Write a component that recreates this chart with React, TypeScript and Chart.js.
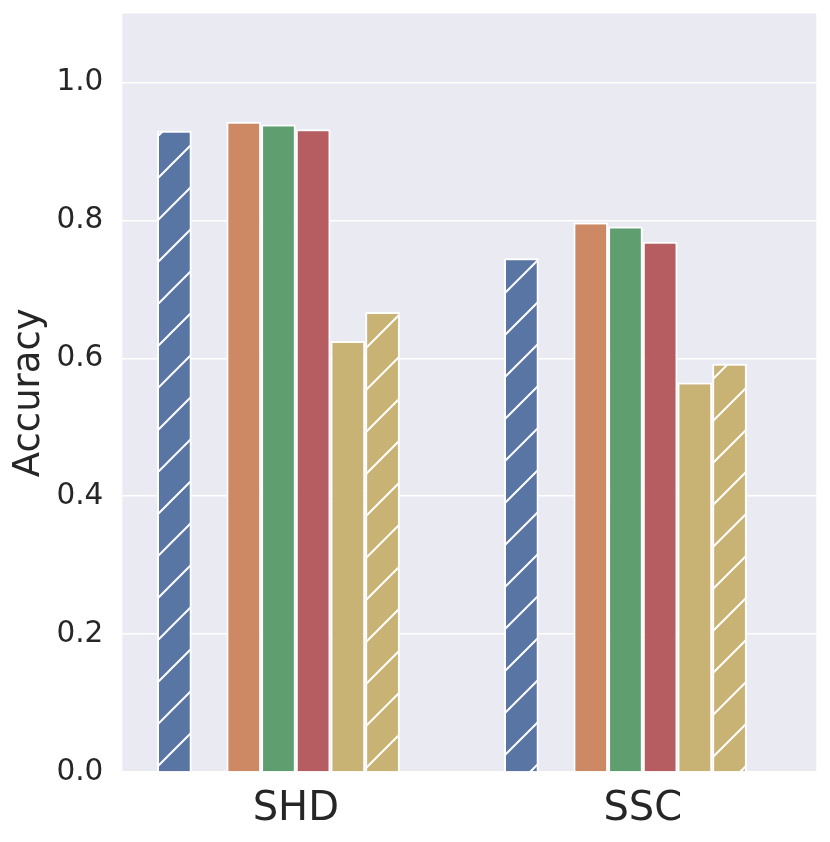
import { useEffect, useRef } from "react";
import { Chart, registerables } from "chart.js";
Chart.register(...registerables);

// two benchmarks, eight hue slots (two of them are empty in the original plot)
const categories = ["SHD", "SSC"];
const blueHatched = [0.930, 0.745];
const emptySlot = [null, null];
const orange = [0.943, 0.797];
const green = [0.939, 0.791];
const red = [0.932, 0.769];
const yellow = [0.625, 0.565];
const yellowHatched = [0.667, 0.592];
const yTicks = [0, 0.2, 0.4, 0.6, 0.8, 1.0];

const INK = "#262626";
const FONT = "'DejaVu Sans', sans-serif";

function hatch(color: string) {
  const s = 42;
  const c = document.createElement("canvas");
  c.width = s;
  c.height = s;
  const g = c.getContext("2d")!;
  g.fillStyle = color;
  g.fillRect(0, 0, s, s);
  g.strokeStyle = "#ffffff";
  g.lineWidth = 2;
  g.beginPath();
  g.moveTo(0, s);
  g.lineTo(s, 0);
  g.moveTo(-2, 2);
  g.lineTo(2, -2);
  g.moveTo(s - 2, s + 2);
  g.lineTo(s + 2, s - 2);
  g.stroke();
  return g.createPattern(c, "repeat")!;
}

export default function App() {
  const canvasRef = useRef<HTMLCanvasElement | null>(null);

  useEffect(() => {
    if (!canvasRef.current) return;
    const ctx = canvasRef.current.getContext("2d");
    if (!ctx) return;

    const bar = (label: string, data: (number | null)[], fill: any) => ({
      label, data, backgroundColor: fill, borderColor: "#ffffff", borderWidth: 2,
    });

    const chart = new Chart(ctx, {
      type: "bar",
      data: {
        labels: categories,
        datasets: [
          bar("s1", blueHatched, hatch("#5975A4")),
          bar("gap1", emptySlot, "rgba(0,0,0,0)"),
          bar("s2", orange, "#CC8963"),
          bar("s3", green, "#5F9E6E"),
          bar("s4", red, "#B55D60"),
          bar("s5", yellow, "#C8B274"),
          bar("s6", yellowHatched, hatch("#C8B274")),
          bar("gap2", emptySlot, "rgba(0,0,0,0)"),
        ],
      },
      options: {
        responsive: false,
        animation: false,
        layout: { padding: { left: 0, top: 13.5, right: 13.7, bottom: 0 } },
        datasets: { bar: { categoryPercentage: 0.8, barPercentage: 1.0 } },
        plugins: { legend: { display: false }, tooltip: { enabled: false } },
        scales: {
          x: {
            grid: { display: false, drawTicks: false },
            border: { display: false },
            ticks: { color: INK, font: { family: FONT, size: 40 }, padding: 14 },
            afterFit: (axis: any) => {
              axis.height = 70;
              axis.paddingLeft = 0;
              axis.paddingRight = 0;
            },
          },
          y: {
            min: 0,
            max: 1.1,
            afterBuildTicks: (axis: any) => { axis.ticks = yTicks.map((v) => ({ value: v })); },
            grid: { color: "#ffffff", lineWidth: 1.5, drawTicks: false },
            border: { display: false },
            ticks: {
              color: INK,
              font: { family: FONT, size: 29.5 },
              padding: 19,
              callback: (v: any) => Number(v).toFixed(1),
            },
            title: {
              display: true,
              text: "Accuracy",
              color: INK,
              font: { family: FONT, size: 37 },
              padding: { top: 7, bottom: 0 },
            },
            afterFit: (axis: any) => {
              axis.width = 122.3;
              axis.paddingTop = 0;
              axis.paddingBottom = 0;
            },
          },
        },
      },
      plugins: [
        {
          id: "plotBg",
          beforeDraw: (c: any) => {
            const a = c.chartArea;
            c.ctx.save();
            c.ctx.fillStyle = "#EAEAF2";
            c.ctx.fillRect(a.left, a.top, a.right - a.left, a.bottom - a.top);
            c.ctx.restore();
          },
        },
      ],
    });

    return () => chart.destroy();
  }, []);

  return (
    <div style={{ position: "fixed", left: 0, top: 0, width: 830, height: 842, background: "#ffffff" }}>
      <canvas ref={canvasRef} width={830} height={842} style={{ display: "block" }} />
    </div>
  );
}
